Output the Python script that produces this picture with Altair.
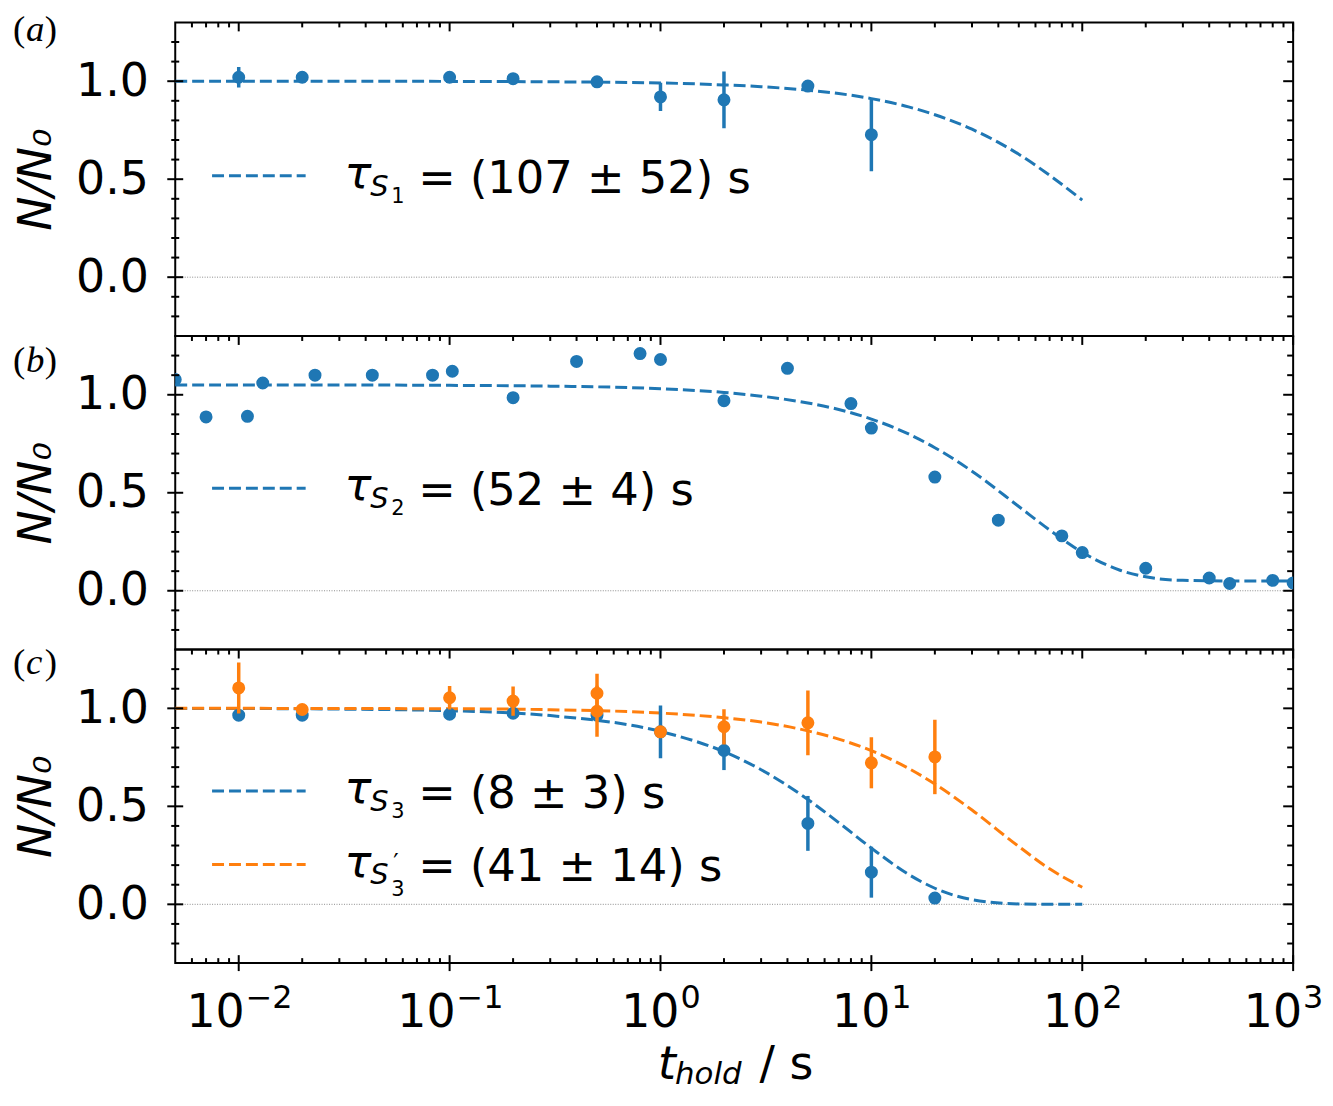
import altair as alt
import pandas as pd

BLUE = "#1f77b4"
ORANGE = "#ff7f0e"
FONT = "DejaVu Sans"
SERIF = "Liberation Serif"
DASH = [12, 5]
W, H = 1123, 315

# ---- values ----
# panel (a)
a_t = [0.01, 0.02, 0.1, 0.2, 0.5, 1, 2, 5, 10]
a_n = [1.02, 1.02, 1.02, 1.013, 0.997, 0.92, 0.905, 0.975, 0.727]
a_err = [0.052, 0.025, 0.008, 0.008, 0.02, 0.072, 0.145, 0.008, 0.186]

# panel (b)
b_t = [0.005, 0.007, 0.011, 0.013, 0.023, 0.043, 0.083, 0.103, 0.2, 0.4, 0.8, 1.0,
       2.0, 4, 8, 10, 20, 40, 80, 100, 200, 400, 500, 800, 1000]
b_n = [1.078, 0.887, 0.89, 1.06, 1.10, 1.10, 1.10, 1.12, 0.985, 1.17, 1.21, 1.18,
       0.97, 1.135, 0.955, 0.83, 0.58, 0.36, 0.28, 0.195, 0.115, 0.065, 0.037, 0.053, 0.04]

# panel (c)
c1_t = [0.01, 0.02, 0.1, 0.2, 0.5, 1, 2, 5, 10, 20]
c1_n = [0.965, 0.965, 0.97, 0.975, 0.965, 0.88, 0.785, 0.413, 0.164, 0.032]
c1_err = [0.01, 0.01, 0.01, 0.01, 0.01, 0.135, 0.1, 0.14, 0.13, 0.02]
c2_t = [0.01, 0.02, 0.1, 0.2, 0.5, 0.5, 1, 2, 5, 10, 20]
c2_n = [1.104, 0.994, 1.054, 1.037, 1.077, 0.985, 0.88, 0.906, 0.926, 0.722, 0.752]
c2_err = [0.13, 0.02, 0.06, 0.075, 0.1, 0.13, 0.02, 0.09, 0.165, 0.13, 0.19]

# fitted curves, read at these times
fit_t = [0.005, 0.01, 0.03, 0.1, 0.3, 1, 2, 3, 5, 7, 10, 15, 20, 30, 50, 70, 100]
fit_a = [1.0, 1.0, 1.0, 0.999, 0.997, 0.991, 0.981, 0.972, 0.954, 0.937, 0.911,
         0.869, 0.829, 0.755, 0.627, 0.52, 0.393]
fit_t_b = fit_t + [150, 200, 300, 500, 1000]
fit_b = [1.05, 1.05, 1.05, 1.048, 1.044, 1.031, 1.012, 0.993, 0.958, 0.925, 0.876,
         0.80, 0.73, 0.61, 0.43, 0.31, 0.196, 0.106, 0.071, 0.053, 0.05, 0.05]
fit_c1 = [0.999, 0.999, 0.996, 0.988, 0.963, 0.882, 0.779, 0.687, 0.535, 0.417, 0.287,
          0.153, 0.082, 0.024, 0.002, 0.0, 0.0]
fit_c2 = [1.0, 1.0, 0.999, 0.998, 0.993, 0.976, 0.952, 0.93, 0.885, 0.843, 0.784,
          0.694, 0.614, 0.481, 0.295, 0.181, 0.087]

legend_values = ["(107 ± 52) s", "(52 ± 4) s", "(8 ± 3) s", "(41 ± 14) s"]
legend_subs = ["1", "2", "3", "3"]
panel_letters = ["a", "b", "c"]

x_major = [0.01, 0.1, 1, 10, 100, 1000]
x_exponents = ["−2", "−1", "0", "1", "2", "3"]
x_minor = [m * d for d in [0.001, 0.01, 0.1, 1, 10, 100] for m in range(2, 10)
           if 0.0055 < m * d < 999]
y_major = [0.0, 0.5, 1.0]
y_minor = [-0.2, -0.1, 0.1, 0.2, 0.3, 0.4, 0.6, 0.7, 0.8, 0.9, 1.1, 1.2]

# ---- scales / axes ----
x_scale = alt.Scale(type="log", domain=[0.005, 1000], nice=False)
y_scale = alt.Scale(domain=[-0.3, 1.3], nice=False, zero=False)

y_axis = alt.Axis(values=y_major, format=".1f", ticks=False, domain=False, grid=False,
                  labelFont=FONT, labelFontSize=46, labelColor="black", labelPadding=27,
                  title="N/N₀", titleFont=FONT, titleFontSize=46, titleFontStyle="italic",
                  titleFontWeight="normal", titleColor="black", titlePadding=15)


def ex(field):
    return alt.X(field, type="quantitative", scale=x_scale, axis=None)


def ey(field):
    return alt.Y(field, type="quantitative", scale=y_scale, axis=y_axis)


def one(s):
    return pd.DataFrame({"s": [s]})


def txt(s, x, y, size, style="normal", font=FONT, baseline="alphabetic"):
    return alt.Chart(one(s)).mark_text(
        align="left", baseline=baseline, font=font, fontSize=size, fontStyle=style,
        color="black"
    ).encode(x=alt.value(x), y=alt.value(y), text="s:N")


def fit(t, n, color):
    df = pd.DataFrame({"t": t, "n": n})
    return alt.Chart(df).mark_line(color=color, strokeWidth=3, strokeDash=DASH,
                                   interpolate="monotone", clip=True).encode(
        x=ex("t"), y=ey("n"))


def points(t, n, color, err=None):
    df = pd.DataFrame({"t": t, "n": n})
    out = []
    if err is not None:
        df["lo"] = [v - e for v, e in zip(n, err)]
        df["hi"] = [v + e for v, e in zip(n, err)]
        out.append(alt.Chart(df).mark_rule(color=color, strokeWidth=3.5, clip=True).encode(
            x=ex("t"), y=ey("lo"), y2="hi"))
    out.append(alt.Chart(df).mark_circle(color=color, size=170, opacity=1, clip=True).encode(
        x=ex("t"), y=ey("n")))
    return out


def zero_line():
    return alt.Chart(pd.DataFrame({"n": [0.0]})).mark_rule(
        color="#8c8c8c", strokeWidth=1, strokeDash=[1, 1.5]).encode(y=ey("n"))


def ticks(bottom=False):
    k = dict(color="black", strokeWidth=2)
    xmaj = pd.DataFrame({"t": x_major})
    xmin = pd.DataFrame({"t": x_minor})
    ymaj = pd.DataFrame({"n": y_major})
    ymin = pd.DataFrame({"n": y_minor})
    out = [
        alt.Chart(xmaj).mark_rule(**k).encode(x=ex("t"), y=alt.value(0), y2=alt.value(9)),
        alt.Chart(xmin).mark_rule(**k).encode(x=ex("t"), y=alt.value(0), y2=alt.value(5)),
        alt.Chart(ymaj).mark_rule(**k).encode(y=ey("n"), x=alt.value(-8), x2=alt.value(8)),
        alt.Chart(ymin).mark_rule(**k).encode(y=ey("n"), x=alt.value(-4), x2=alt.value(4)),
        alt.Chart(ymaj).mark_rule(**k).encode(y=ey("n"), x=alt.value(W - 10), x2=alt.value(W)),
        alt.Chart(ymin).mark_rule(**k).encode(y=ey("n"), x=alt.value(W - 6), x2=alt.value(W)),
    ]
    if bottom:
        out += [
            alt.Chart(xmaj).mark_rule(**k).encode(x=ex("t"), y=alt.value(H - 8),
                                                  y2=alt.value(H + 8)),
            alt.Chart(xmin).mark_rule(**k).encode(x=ex("t"), y=alt.value(H - 5),
                                                  y2=alt.value(H)),
        ]
    return out


def x_tick_labels():
    # "10" plus a raised exponent, centred on each decade tick
    out = []
    for i, (v, e) in enumerate(zip(x_major, x_exponents)):
        shift = 6 if e.startswith("−") else 19
        if i == len(x_major) - 1:
            shift = 9
        df = pd.DataFrame({"t": [v], "base": ["10"], "exp": [e]})
        out.append(alt.Chart(df).mark_text(
            align="right", baseline="alphabetic", font=FONT, fontSize=46, color="black",
            dx=shift).encode(x=ex("t"), y=alt.value(H + 64), text="base:N"))
        out.append(alt.Chart(df).mark_text(
            align="left", baseline="alphabetic", font=FONT, fontSize=32, color="black",
            dx=shift + 1).encode(x=ex("t"), y=alt.value(H + 45), text="exp:N"))
    return out


def legend_entry(y, color, sub, value, prime=False):
    line = alt.Chart(one("")).mark_rule(color=color, strokeWidth=3, strokeDash=DASH).encode(
        x=alt.value(37), x2=alt.value(131), y=alt.value(y))
    out = [line,
           txt("τ", 170, y + 12, 45, "italic"),
           txt("S", 196, y + 20, 29, "italic"),
           txt(sub, 217, y + (32 if prime else 27), 21),
           txt("= " + value, 244, y + 17, 45)]
    if prime:
        out.append(txt("′", 219, y + 6, 24))
    return out


def panel_label(i, y):
    x0 = -163
    return [txt("(", x0, y, 37, "normal", SERIF, "middle"),
            txt(panel_letters[i], x0 + 13, y, 37, "italic", SERIF, "middle"),
            txt(")", x0 + 32, y, 37, "normal", SERIF, "middle")]


# ---- panels ----
pa = alt.layer(
    zero_line(),
    fit(fit_t, fit_a, BLUE),
    *points(a_t, a_n, BLUE, a_err),
    *ticks(),
    *legend_entry(154, BLUE, legend_subs[0], legend_values[0]),
    *panel_label(0, 8),
).properties(width=W, height=H)

pb = alt.layer(
    zero_line(),
    fit(fit_t_b, fit_b, BLUE),
    *points(b_t, b_n, BLUE),
    *ticks(),
    *legend_entry(153, BLUE, legend_subs[1], legend_values[1]),
    *panel_label(1, 25),
).properties(width=W, height=H)

pc = alt.layer(
    zero_line(),
    fit(fit_t, fit_c1, BLUE),
    fit(fit_t, fit_c2, ORANGE),
    *points(c1_t, c1_n, BLUE, c1_err),
    *points(c2_t, c2_n, ORANGE, c2_err),
    *ticks(bottom=True),
    *x_tick_labels(),
    *legend_entry(142, BLUE, legend_subs[2], legend_values[2]),
    *legend_entry(216, ORANGE, legend_subs[3], legend_values[3], prime=True),
    *panel_label(2, 14),
    txt("t", 485, H + 116, 46, "italic"),
    txt("hold", 502, H + 121, 31, "italic"),
    txt("/ s", 587, H + 116, 46),
).properties(width=W, height=H)

chart = alt.vconcat(pa, pb, pc, spacing=0, bounds="flush").properties(
    padding={"left": 4, "top": 0, "right": 0, "bottom": 0}
).configure_view(stroke="black", strokeWidth=2)

chart.save("out.html", embed_options={"renderer": "svg", "actions": False})
